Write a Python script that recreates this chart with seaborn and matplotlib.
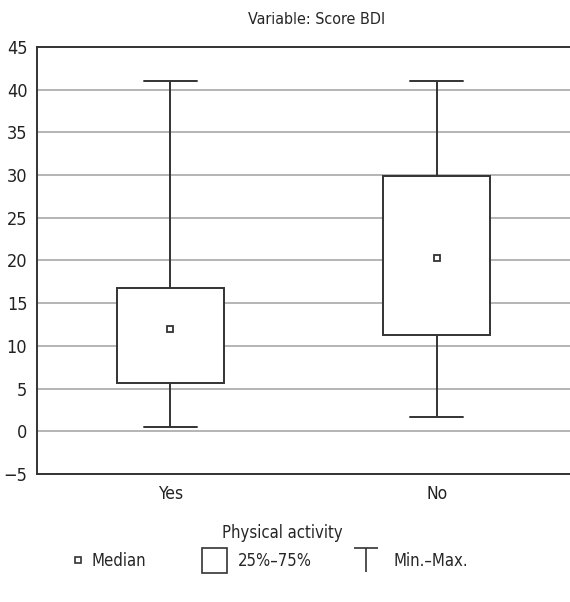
import pandas as pd
import numpy as np
import seaborn as sns
import matplotlib.pyplot as plt
from matplotlib.lines import Line2D
from matplotlib.path import Path

# Valores (min, Q1, mediana, Q3, max) por grupo
groups = ["Yes", "No"]
minimum = [0.55, 1.65]
q1 = [5.7, 11.25]
median = [12.0, 20.25]
q3 = [16.75, 29.85]
maximum = [41.0, 41.0]
yticks = [-5, 0, 5, 10, 15, 20, 25, 30, 35, 40, 45]

rows = []
for g, a, b, c, d, e in zip(groups, minimum, q1, median, q3, maximum):
    for v in (a, b, c, d, e):
        rows.append({"activity": g, "score": v})
df = pd.DataFrame(rows)

sns.set_style("white")
plt.rcParams["font.family"] = ["DejaVu Sans"]
plt.rcParams["font.stretch"] = "condensed"
plt.rcParams["font.size"] = 12

dark = "#333333"
fig = plt.figure(figsize=(5.7, 6.02), dpi=100)
ax = fig.add_axes([0.065, 0.2126, 0.935, 0.7094])

sns.boxplot(data=df, x="activity", y="score", order=groups, whis=(0, 100),
            width=0.4, color="white", linecolor=dark, linewidth=1.4,
            medianprops={"linewidth": 0}, ax=ax, zorder=3)
sns.pointplot(data=df, x="activity", y="score", order=groups, estimator="median",
              errorbar=None, linestyle="none", marker="s", markersize=5,
              color=dark, markerfacecolor="white", markeredgecolor=dark,
              markeredgewidth=1.3, ax=ax, zorder=4)

ax.set_xlim(-0.5, 1.5)
ax.set_ylim(-5, 45)
ax.set_yticks(yticks)
ax.yaxis.grid(True, color="#a0a0a0", linewidth=1.1)
ax.set_axisbelow(True)
ax.tick_params(axis="y", length=0, labelsize=13, colors="#222222", pad=7)
ax.tick_params(axis="x", length=0, labelsize=12.5, colors="#222222", pad=8)
for side in ["top", "left", "bottom"]:
    ax.spines[side].set_color(dark)
    ax.spines[side].set_linewidth(1.4)
ax.spines["right"].set_visible(False)
ax.set_xlabel("")
ax.set_ylabel("")

fig.text(0.556, 0.968, "Variable: Score BDI", ha="center", va="center", fontsize=11.5)
fig.text(0.495, 0.115, "Physical activity", ha="center", va="center", fontsize=12)

# Leyenda: tres entradas colocadas por separado
tee = Path([(-1, 1), (1, 1), (0, 1), (0, -1)],
           [Path.MOVETO, Path.LINETO, Path.MOVETO, Path.LINETO])
handles = [
    Line2D([], [], marker="s", markersize=5, linestyle="none", markerfacecolor="white",
           markeredgecolor=dark, markeredgewidth=1.2),
    Line2D([], [], marker="s", markersize=18, linestyle="none", markerfacecolor="white",
           markeredgecolor=dark, markeredgewidth=1.2),
    Line2D([], [], marker=tee, markersize=17, linestyle="none", color=dark,
           markeredgewidth=1.2),
]
labels = ["Median", "25%\u201375%", "Min.\u2013Max."]
legend_x = [0.089, 0.328, 0.593]
text_pads = [0.07, 0.67, 0.91]
for h, l, x, p in zip(handles, labels, legend_x, text_pads):
    fig.legend([h], [l], loc="center left", bbox_to_anchor=(x, 0.068),
               frameon=False, fontsize=12, handlelength=1.5, handletextpad=p)

fig.savefig("out.png", dpi=100)
